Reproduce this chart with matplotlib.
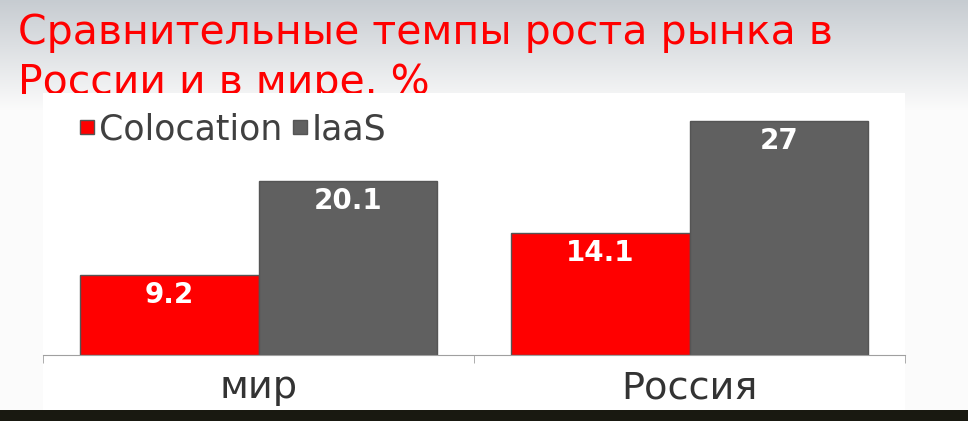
import matplotlib.pyplot as plt
import numpy as np
from matplotlib.patches import Rectangle

plt.rcParams['font.family'] = ['DejaVu Sans']

categories = ['мир', 'Россия']
series = ['Colocation', 'IaaS']
colocation = [9.2, 14.1]
iaas = [20.1, 27]
labels_colocation = ['9.2', '14.1']
labels_iaas = ['20.1', '27']
title_lines = ['Сравнительные темпы роста рынка в', 'России и в мире. %']

W, H = 968, 421
fig = plt.figure(figsize=(W / 100, H / 100), dpi=100)
fig.patch.set_facecolor('white')

# slide background: light grey gradient at the top, dark strip at the bottom
bg = fig.add_axes([0, 0, 1, 1], zorder=0)
bg.set_axis_off()
rows = np.linspace(0, 1, H)
top = np.array([0.78, 0.80, 0.82])
fade = np.clip(rows * H / 110, 0, 1)[:, None]
col = top * (1 - fade) + np.array([0.985, 0.985, 0.985]) * fade
col[410:] = [0.10, 0.10, 0.07]
bg.imshow(np.repeat(col[:, None, :], 2, axis=1), aspect='auto',
          extent=[0, 1, 0, 1], transform=bg.transAxes)
bg.set_xlim(0, 1)
bg.set_ylim(0, 1)

# title, clipped by the white chart area below
bg.text(18 / W, 1 - 44 / H, title_lines[0], color='#ff0000', fontsize=29.5,
        va='baseline', ha='left', transform=bg.transAxes, zorder=2)
bg.text(18 / W, 1 - 94 / H, title_lines[1], color='#ff0000', fontsize=29.5,
        va='baseline', ha='left', transform=bg.transAxes, zorder=2)
bg.add_patch(Rectangle((43 / W, 1 - 410 / H), (905 - 43) / W, (410 - 93) / H,
                       facecolor='white', edgecolor='none',
                       transform=bg.transAxes, zorder=3))

ax = fig.add_axes([43 / W, 66 / H, (905 - 43) / W, 260 / H], zorder=1)
ax.patch.set_alpha(0)
x = np.arange(len(categories))
width = 0.414
b1 = ax.bar(x - width / 2, colocation, width, color='#ff0000',
            edgecolor='#555555', linewidth=1, label=series[0])
b2 = ax.bar(x + width / 2, iaas, width, color='#606060',
            edgecolor='#555555', linewidth=1, label=series[1])

for bars, labels in ((b1, labels_colocation), (b2, labels_iaas)):
    for bar, lab in zip(bars, labels):
        ax.annotate(lab, (bar.get_x() + bar.get_width() / 2, bar.get_height()),
                    xytext=(0, -20), textcoords='offset pixels',
                    ha='center', va='center', color='white',
                    fontsize=20, fontweight='bold')

ax.set_xlim(-0.5, 1.5)
ax.set_ylim(0, 30)
for side in ('left', 'right', 'top'):
    ax.spines[side].set_visible(False)
ax.spines['bottom'].set_color('#a0a0a0')
ax.set_yticks([])
ax.set_xticks(x)
ax.set_xticklabels(categories, fontsize=27.5, color='#333333')
ax.tick_params(axis='x', which='major', length=0, pad=11)
ax.set_xticks([-0.5, 0.5, 1.5], minor=True)
ax.tick_params(axis='x', which='minor', length=6, color='#a0a0a0')

leg = fig.legend(loc='center left', bbox_to_anchor=(80 / W, 1 - 130 / H),
                 ncol=2, frameon=False, fontsize=25, borderpad=0,
                 borderaxespad=0, handlelength=0.4, handleheight=0.24,
                 handletextpad=0.15, columnspacing=0.3)
for t in leg.get_texts():
    t.set_color('#404040')

fig.savefig('out.png', dpi=100)
